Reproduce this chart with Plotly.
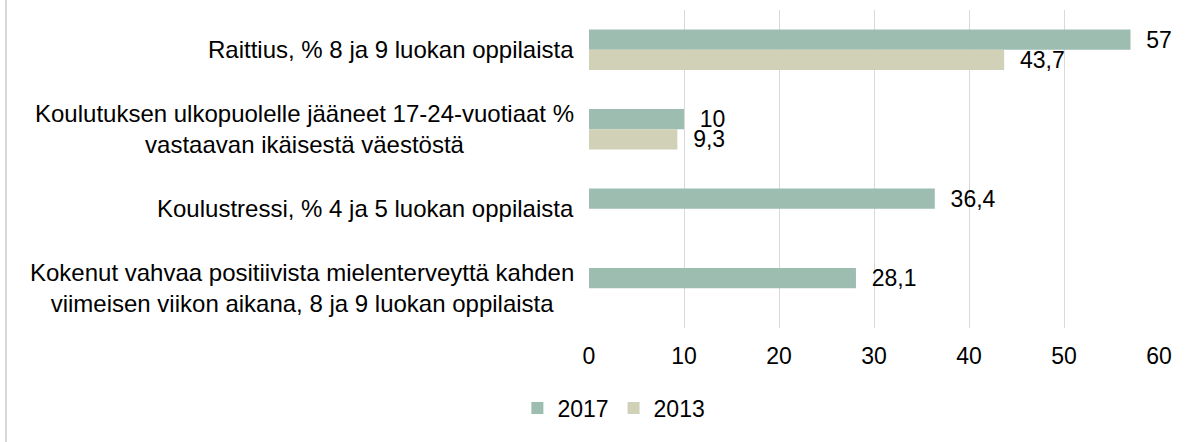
import plotly.graph_objects as go

categories = [
    "Raittius, % 8 ja 9 luokan oppilaista",
    "Koulutuksen ulkopuolelle jääneet 17-24-vuotiaat %<br>vastaavan ikäisestä väestöstä",
    "Koulustressi, % 4 ja 5 luokan oppilaista",
    "Kokenut vahvaa positiivista mielenterveyttä kahden<br>viimeisen viikon aikana, 8 ja 9 luokan oppilaista",
]
values_2017 = [57, 10, 36.4, 28.1]
values_2013 = [43.7, 9.3, None, None]
x_ticks = [0, 10, 20, 30, 40, 50, 60]

def fmt(v):
    if v is None:
        return ""
    s = ("%g" % v).replace(".", ",")
    return "  " + s

FONT = "Liberation Sans, Arial, sans-serif"
FS = 23

fig = go.Figure()
fig.add_trace(go.Bar(
    name="2017", y=categories, x=values_2017, orientation="h",
    marker=dict(color="#9EBDB1", line=dict(width=0)),
    text=[fmt(v) for v in values_2017], textposition="outside",
    textfont=dict(size=23, color="#000000", family=FONT),
    cliponaxis=False, constraintext="none",
))
fig.add_trace(go.Bar(
    name="2013", y=categories, x=values_2013, orientation="h",
    marker=dict(color="#D1D1B7", line=dict(width=0)),
    text=[fmt(v) for v in values_2013], textposition="outside",
    textfont=dict(size=23, color="#000000", family=FONT),
    cliponaxis=False, constraintext="none",
))

# category labels: right-anchored, lines centred (as in the reference)
for cat in categories:
    fig.add_annotation(
        text=cat, xref="paper", x=-13 / 570, xanchor="right",
        yref="y", y=cat, yanchor="middle", align="center",
        showarrow=False, font=dict(size=24, family=FONT, color="#000000"),
    )

fig.update_layout(
    width=1192, height=442,
    margin=dict(l=589, r=33, t=10, b=114, autoexpand=False),
    barmode="group", bargap=0.49, bargroupgap=0,
    plot_bgcolor="white", paper_bgcolor="white",
    font=dict(family=FONT, size=FS, color="#000000"),
    xaxis=dict(range=[0, 60], tickvals=x_ticks, showgrid=True, gridcolor="#D9D9D9",
               gridwidth=1, zeroline=False, showline=False, ticks="",
               ticklabelstandoff=12, tickfont=dict(size=FS)),
    yaxis=dict(autorange="reversed", showgrid=False, showline=False, ticks="",
               showticklabels=False),
    legend=dict(orientation="h", x=0.515, xref="container", xanchor="center",
                y=0.077, yref="container", yanchor="middle",
                font=dict(size=FS), itemwidth=30, traceorder="normal"),
    shapes=[dict(type="line", xref="paper", yref="paper",
                 x0=-1.0228, x1=-1.0228, y0=-0.36, y1=1.04,
                 line=dict(color="#D9D9D9", width=2))],
)

fig.write_html("out.html", config={"displayModeBar": False},
               post_script="document.body.style.margin='0';document.body.style.overflow='hidden';")
